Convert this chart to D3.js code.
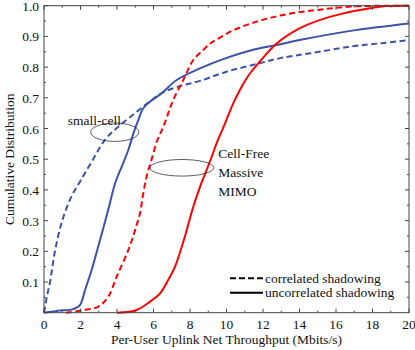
<!DOCTYPE html>
<html><head><meta charset="utf-8">
<script src="https://cdn.jsdelivr.net/npm/d3@7"></script>
<style>body{margin:0;background:#fff}svg{display:block}text{font-family:"Liberation Serif","Times New Roman",serif}</style>
</head><body>
<script>
const xTicks = [0,2,4,6,8,10,12,14,16,18,20];
const yTicks = [0.1,0.2,0.3,0.4,0.5,0.6,0.7,0.8,0.9,1.0];
const smallCellCorrX = [0,0.15,0.33,0.6,1.0,1.5,2.0,2.6,3.34,4.07,4.99,5.9,6.54,7.45,8.55,10,11.65,13,14.6,16.8,18.5,20];
const smallCellCorrY = [0,0.05,0.1,0.2,0.3,0.378,0.43,0.49,0.563,0.606,0.65,0.693,0.718,0.738,0.755,0.785,0.81,0.83,0.845,0.867,0.878,0.888];
const smallCellUncX = [0,0.5,0.88,1.5,1.97,2.25,2.61,3.07,3.52,3.89,4.26,4.62,4.9,5.17,5.44,5.8,6.45,7.27,8.55,9.82,11.56,12.75,14,16.8,20];
const smallCellUncY = [0,0.004,0.007,0.01,0.025,0.074,0.139,0.237,0.335,0.42,0.476,0.53,0.584,0.628,0.666,0.687,0.715,0.758,0.796,0.826,0.858,0.872,0.888,0.918,0.942];
const cellFreeCorrX = [1.2,2.25,2.98,3.52,3.98,4.62,4.99,5.26,5.44,5.63,5.9,6.2,6.54,6.81,7.08,7.63,8.18,8.73,9.1,9.64,10.37,11.65,13.1,14.94,16.8,18.6,20];
const cellFreeCorrY = [0,0.009,0.02,0.052,0.117,0.204,0.269,0.324,0.389,0.445,0.5,0.56,0.606,0.65,0.693,0.758,0.823,0.856,0.877,0.896,0.92,0.948,0.97,0.986,0.997,1.0,1.0];
const cellFreeUncX = [4.0,5.08,5.81,6.36,6.81,7.18,7.55,7.82,8.18,8.55,8.91,9.19,9.46,9.92,10.37,10.83,11.29,11.74,12.75,14,15.1,16.4,17.7,18.8,20];
const cellFreeUncY = [0,0.009,0.036,0.063,0.107,0.15,0.215,0.269,0.345,0.41,0.465,0.508,0.552,0.617,0.682,0.736,0.78,0.812,0.877,0.926,0.953,0.975,0.99,0.999,1.0];
const legendLabels = ["correlated shadowing","uncorrelated shadowing"];
const ellipseCenters = [[3.88,0.588],[7.56,0.472]];
const ellipseRadii = [[1.32,0.03],[1.75,0.027]];

const W = 415, H = 350;
const m = {l:44, r:6, t:5.7, b:37.3};
const svg = d3.select("body").append("svg").attr("width",W).attr("height",H);
const x = d3.scaleLinear().domain([0,20]).range([m.l, W-m.r]);
const y = d3.scaleLinear().domain([0,1]).range([H-m.b, m.t]);
const axisCol = "#444";

const series = [
  {x:smallCellCorrX, y:smallCellCorrY, color:"#3a53a8", dash:"6,3.5"},
  {x:smallCellUncX, y:smallCellUncY, color:"#3a53a8", dash:null},
  {x:cellFreeCorrX, y:cellFreeCorrY, color:"#ff0000", dash:"6,3.5"},
  {x:cellFreeUncX, y:cellFreeUncY, color:"#ff0000", dash:null}
];
const line = d3.line().x(d=>x(d[0])).y(d=>y(d[1])).curve(d3.curveCatmullRom.alpha(0.5));
series.forEach(s=>{
  const pts = s.x.map((v,i)=>[v,s.y[i]]);
  const p = svg.append("path").datum(pts).attr("d",line).attr("fill","none")
    .attr("stroke",s.color).attr("stroke-width",2);
  if (s.dash) p.attr("stroke-dasharray",s.dash);
});

// ticks
const xMinor = d3.range(1,20,2), yMinor = d3.range(0.05,1,0.1);
const g = svg.append("g").attr("stroke",axisCol).attr("stroke-width",1);
const y0 = y(0), y1 = y(1), x0 = x(0), x1 = x(20);
xTicks.forEach(v=>{ g.append("line").attr("x1",x(v)).attr("x2",x(v)).attr("y1",y0).attr("y2",y0-4);
  g.append("line").attr("x1",x(v)).attr("x2",x(v)).attr("y1",y1).attr("y2",y1+4);});
xMinor.forEach(v=>{ g.append("line").attr("x1",x(v)).attr("x2",x(v)).attr("y1",y0).attr("y2",y0-2);
  g.append("line").attr("x1",x(v)).attr("x2",x(v)).attr("y1",y1).attr("y2",y1+2);});
yTicks.forEach(v=>{ g.append("line").attr("y1",y(v)).attr("y2",y(v)).attr("x1",x0).attr("x2",x0+4);
  g.append("line").attr("y1",y(v)).attr("y2",y(v)).attr("x1",x1).attr("x2",x1-4);});
yMinor.forEach(v=>{ g.append("line").attr("y1",y(v)).attr("y2",y(v)).attr("x1",x0).attr("x2",x0+2);
  g.append("line").attr("y1",y(v)).attr("y2",y(v)).attr("x1",x1).attr("x2",x1-2);});
svg.append("rect").attr("x",x0).attr("y",y1).attr("width",x1-x0).attr("height",y0-y1)
  .attr("fill","none").attr("stroke",axisCol).attr("stroke-width",1);

// tick labels
const fs = 13.5;
xTicks.forEach(v=> svg.append("text").attr("x",x(v)).attr("y",y0+16).attr("text-anchor","middle")
  .attr("font-size",fs).attr("fill","#111").text(v));
yTicks.forEach(v=> svg.append("text").attr("x",x0-5).attr("y",y(v)+5).attr("text-anchor","end")
  .attr("font-size",fs).attr("fill","#111").text(v.toFixed(1)));

// axis titles
svg.append("text").attr("x",(x0+x1)/2).attr("y",344).attr("text-anchor","middle").attr("font-size",fs)
  .attr("fill","#111").text("Per-User Uplink Net Throughput (Mbits/s)");
svg.append("text").attr("transform",`translate(14,${(y0+y1)/2}) rotate(-90)`).attr("text-anchor","middle")
  .attr("font-size",fs).attr("fill","#111").text("Cumulative Distribution");

// annotations
ellipseCenters.forEach((c,i)=>{
  svg.append("ellipse").attr("cx",x(c[0])).attr("cy",y(c[1]))
    .attr("rx",x(ellipseRadii[i][0])-x(0)).attr("ry",y(0)-y(ellipseRadii[i][1]))
    .attr("fill","none").attr("stroke","#333").attr("stroke-width",0.8);
});
svg.append("text").attr("x",x(1.3)).attr("y",y(0.61)).attr("font-size",fs).attr("fill","#111").text("small-cell");
["Cell-Free","Massive","MIMO"].forEach((t,i)=>
  svg.append("text").attr("x",x(9.55)).attr("y",y(0.505)+i*19).attr("font-size",fs).attr("fill","#111").text(t));

// legend
legendLabels.forEach((t,i)=>{
  const ly = 278.3 + i*14.5;
  const l = svg.append("line").attr("x1",230).attr("x2",263).attr("y1",ly).attr("y2",ly)
    .attr("stroke","#000").attr("stroke-width",2);
  if (i===0) l.attr("stroke-dasharray","6,3");
  svg.append("text").attr("x",265).attr("y",ly+4.5).attr("font-size",fs).attr("fill","#111").text(t);
});
</script>
</body></html>
